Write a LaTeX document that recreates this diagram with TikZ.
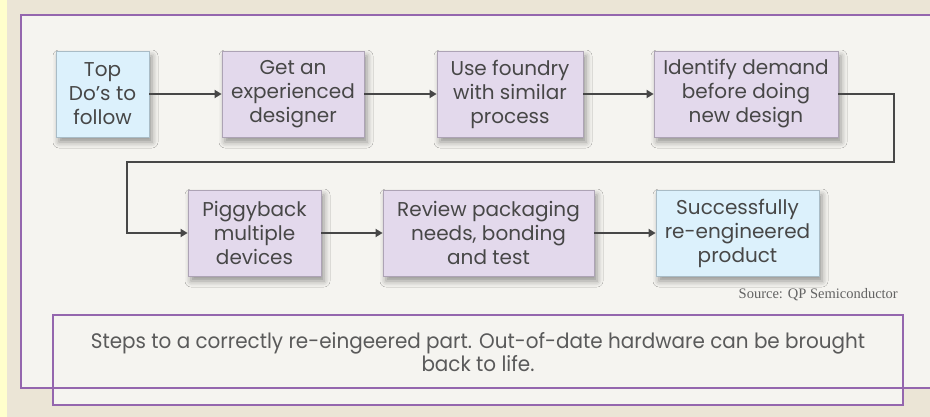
\documentclass[tikz,border=0pt]{standalone}
\usepackage{fontspec}
\setmainfont{Poppins}
\newfontfamily\capfont[FakeStretch=0.95]{Poppins}
\newfontfamily\srcfont{Liberation Serif}
\usetikzlibrary{arrows.meta,shadows.blur}

\definecolor{beige}{HTML}{EBE5D6}
\definecolor{strip}{HTML}{FFFFCC}
\definecolor{paper}{HTML}{F5F4F0}
\definecolor{lav}{HTML}{E3D9EC}
\definecolor{sky}{HTML}{DCF1FC}
\definecolor{framepurple}{HTML}{9466AE}
\definecolor{boxline}{HTML}{ADA3B5}
\definecolor{skyline}{HTML}{A9BCC6}
\definecolor{ink}{HTML}{474747}

\begin{document}
\begin{tikzpicture}[x=1pt,y=-1pt,
  stepbox/.style={draw=boxline, line width=0.8pt, text=ink, align=center,
    font=\fontsize{20}{24}\selectfont, inner sep=0pt, minimum height=86pt,
    blur shadow={shadow xshift=3pt, shadow yshift=-5pt,
      shadow blur radius=6pt, shadow opacity=40}},
  purplebox/.style={stepbox, fill=lav},
  bluebox/.style={stepbox, fill=sky, draw=skyline},
  link/.style={draw=ink, line width=2.3pt, line join=miter,
    -{Triangle[length=7pt,width=8pt]}}
]
\useasboundingbox (0,0) rectangle (930,417);
\clip (0,0) rectangle (930,417);

% page background and panel
\fill[beige] (0,0) rectangle (930,417);
\fill[strip] (0,0) rectangle (7,417);
\fill[paper] (21,15) rectangle (945,388);

% process steps, first row
\node[bluebox,   minimum width=93pt]  (b1) at (102.5,94) {Top\\Do's to\\follow};
\node[purplebox, minimum width=142pt] (b2) at (293,94)   {Get an\\experienced\\designer};
\node[purplebox, minimum width=146pt] (b3) at (510,94)   {Use foundry\\with similar\\process};
\node[purplebox, minimum width=184pt] (b4) at (746,94)   {Identify demand\\before doing\\new design};

% process steps, second row
\node[purplebox, minimum width=133pt] (b5) at (254.5,233) {Piggyback\\multiple\\devices};
\node[purplebox, minimum width=211pt] (b6) at (488.5,233) {Review packaging\\needs, bonding\\and test};
\node[bluebox,   minimum width=163pt] (b7) at (737.5,233) {Successfully\\re-engineered\\product};

% connectors
\draw[link] (b1) -- (b2);
\draw[link] (b2) -- (b3);
\draw[link] (b3) -- (b4);
\coordinate (turnR) at (894,162);
\coordinate (turnL) at (127,162);
\draw[link] (b4.east) -| (turnR) -- (turnL) |- (b5.west);
\draw[link] (b5) -- (b6);
\draw[link] (b6) -- (b7);

% source line
\node[anchor=east, text=ink!85, font=\srcfont\fontsize{14.5}{16}\selectfont, inner sep=0pt]
  (src) at (898,295) {Source: QP Semiconductor};

% caption box
\node[draw=framepurple, line width=1.8pt, fill=paper, minimum width=850pt,
  minimum height=90pt, inner sep=0pt] (capbox) at (478,360) {};
\node[text=ink!90, align=center, font=\capfont\fontsize{21}{22.5}\selectfont, inner sep=0pt]
  (cap) at (478,352) {Steps to a correctly re-eingeered part. Out-of-date hardware can be brought\\back to life.};

% panel border, drawn over the caption box
\draw[framepurple, line width=2pt] (945,15) -- (21,15) -- (21,388) -- (945,388);
\end{tikzpicture}
\end{document}
